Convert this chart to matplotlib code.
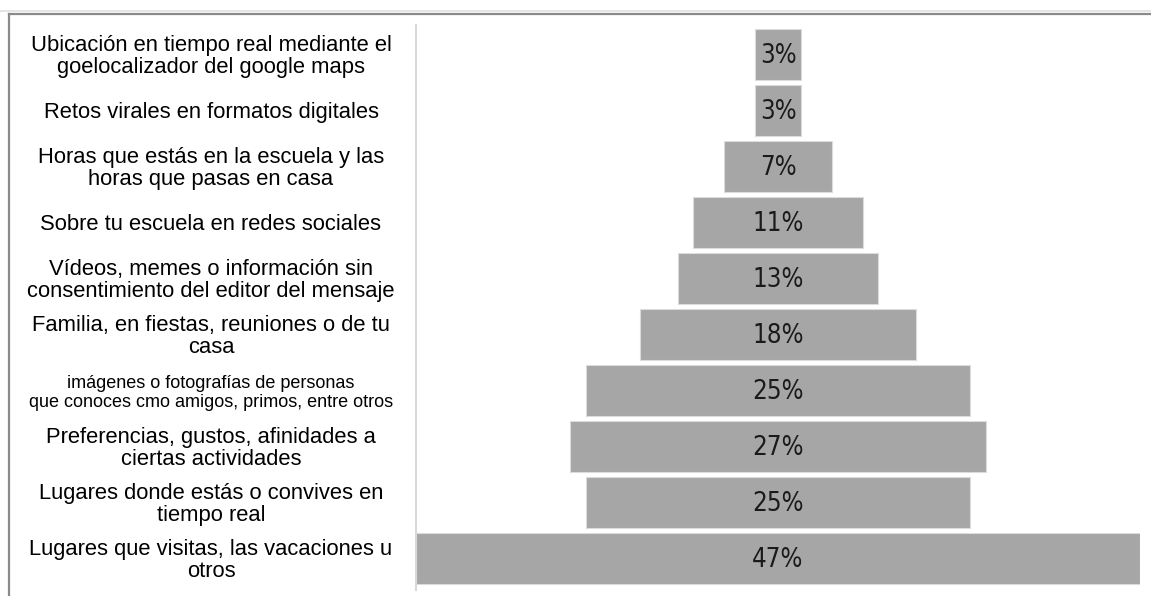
import matplotlib
matplotlib.use("Agg")
import matplotlib.pyplot as plt
import matplotlib.transforms as mtransforms
from matplotlib.lines import Line2D

# Categories from top to bottom, with the share of answers for each one
categories = [
    "Ubicación en tiempo real mediante el\ngoelocalizador del google maps",
    "Retos virales en formatos digitales",
    "Horas que estás en la escuela y las\nhoras que pasas en casa",
    "Sobre tu escuela en redes sociales",
    "Vídeos, memes o información sin\nconsentimiento del editor del mensaje",
    "Familia, en fiestas, reuniones o de tu\ncasa",
    "imágenes o fotografías de personas\nque conoces cmo amigos, primos, entre otros",
    "Preferencias, gustos, afinidades a\nciertas actividades",
    "Lugares donde estás o convives en\ntiempo real",
    "Lugares que visitas, las vacaciones u\notros",
]
values = [3, 3, 7, 11, 13, 18, 25, 27, 25, 47]
small_label = [False, False, False, False, False, False, True, False, False, False]

W, H = 1151, 596
fig = plt.figure(figsize=(W / 100, H / 100), dpi=100)
fig.patch.set_facecolor("white")

ax = fig.add_axes([416 / W, 1 - 590 / H, (1140 - 416) / W, (590 - 25) / H])
ax.set_facecolor("white")

pos = list(range(len(values)))
lefts = [-v / 2 for v in values]
ax.barh(pos, values, left=lefts, height=0.91, color="#a6a6a6",
        edgecolor="#dcdcdc", linewidth=0.8)

half = max(values) / 2
ax.set_xlim(-half - 0.03, half + 0.03)
ax.set_ylim(9.56, -0.53)

for s in ["top", "right", "bottom"]:
    ax.spines[s].set_visible(False)
ax.spines["left"].set_color("#d9d9d9")
ax.spines["left"].set_linewidth(1.5)
ax.set_xticks([])
ax.set_yticks([])

# value labels inside the bars
for p, v in zip(pos, values):
    ax.text(0, p + 0.03, f"{v}%", ha="center", va="center", fontsize=18.5,
            family="DejaVu Sans", fontstretch="condensed",
            color="#1a1a1a")

# category labels, centred in the left column
trans = mtransforms.blended_transform_factory(fig.transFigure, ax.transData)
for p, lab, small in zip(pos, categories, small_label):
    ax.text(211 / W, p + 0.04, lab, transform=trans, ha="center", va="center",
            multialignment="center", fontsize=13 if small else 15.8,
            linespacing=1.1 if small else 1.06,
            family=["Liberation Sans", "DejaVu Sans"], color="black",
            clip_on=False)

# window frame along the top and the left edge
fig.add_artist(Line2D([0, 1], [1 - 10.5 / H, 1 - 10.5 / H], transform=fig.transFigure,
                      color="#e0e0e0", linewidth=1.2))
fig.add_artist(Line2D([9 / W, 1], [1 - 13.5 / H, 1 - 13.5 / H], transform=fig.transFigure,
                      color="#8a8a8a", linewidth=1.6))
fig.add_artist(Line2D([9 / W, 9 / W], [0, 1 - 13.5 / H], transform=fig.transFigure,
                      color="#8a8a8a", linewidth=1.6))

fig.savefig("out.png", dpi=100)
